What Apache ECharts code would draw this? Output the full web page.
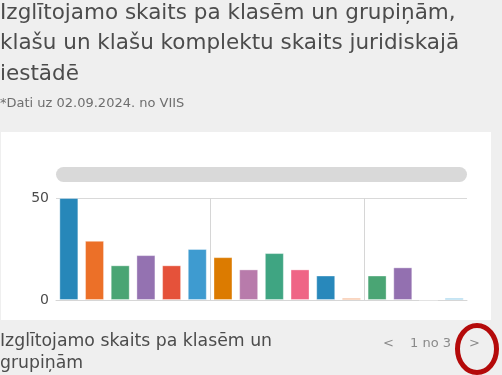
<!DOCTYPE html>
<html>
<head>
<meta charset="utf-8">
<script src="https://cdn.jsdelivr.net/npm/echarts@6/dist/echarts.min.js"></script>
<style>
html,body{margin:0;padding:0;background:#efefef;}
#c{width:502px;height:375px;}
</style>
</head>
<body>
<div id="c"></div>
<script>
// ---- data ----
const categories = ['1','2','3','4','5','6','7','8','9','10','11','12','13','14','15','16'];
const values = [50, 29, 17, 22, 17, 25, 21, 15, 23, 15, 12, 1, 12, 16, 0, 1];
const barColors = ['#2787b9','#ec7028','#4aa574','#9472b1','#e5523a','#3e9bd0','#dc7b00','#b87bab',
                   '#3fa582','#ef6586','#2888bb','#ef8c50','#4aa574','#9370b0','#e5523a','#5db4e0'];
const yTicks = [0, 50];
const titleText = 'Izglītojamo skaits pa klasēm un grupiņām,\nklašu un klašu komplektu skaits juridiskajā\niestādē';
const noteText = '*Dati uz 02.09.2024. no VIIS';
const footerText = 'Izglītojamo skaits pa klasēm un\ngrupiņām';
const pagerText = '1 no 3';

const chart = echarts.init(document.getElementById('c'), null, {renderer: 'canvas'});
const font = "'DejaVu Sans', sans-serif";
chart.setOption({
  backgroundColor: '#efefef',
  animation: false,
  color: barColors,
  title: [
    {text: titleText, left: 0, top: -2, padding: 0,
     textStyle: {fontFamily: font, fontSize: 21.5, fontWeight: 'normal', color: '#4c4c4c', lineHeight: 30.5}},
    {text: noteText, left: 0, top: 97, padding: 0,
     textStyle: {fontFamily: font, fontSize: 13, fontWeight: 'normal', color: '#6e6e6e', lineHeight: 14}},
    {text: footerText, left: 0, top: 331, padding: 0,
     textStyle: {fontFamily: font, fontSize: 17.3, fontWeight: 'normal', color: '#4c4c4c', lineHeight: 21.5}},
    {text: pagerText, left: 410, top: 335, padding: 0,
     textStyle: {fontFamily: font, fontSize: 13, fontWeight: 'normal', color: '#8a8a8a', lineHeight: 18}},
    {text: '<', left: 383, top: 335, padding: 0,
     textStyle: {fontFamily: font, fontSize: 13, fontWeight: 'normal', color: '#8a8a8a', lineHeight: 18}},
    {text: '>', left: 469, top: 335, padding: 0,
     textStyle: {fontFamily: font, fontSize: 13, fontWeight: 'normal', color: '#8a8a8a', lineHeight: 18}}
  ],
  graphic: [
    {type: 'rect', z: -10, shape: {x: 1, y: 132, width: 490, height: 188}, style: {fill: '#ffffff'}},
    {type: 'rect', z: 1, shape: {x: 56, y: 167, width: 411, height: 15, r: 7.5}, style: {fill: '#d9d9d9'}},
    {type: 'ellipse', z: 100, shape: {cx: 477, cy: 349, rx: 19.5, ry: 23.5},
     style: {fill: 'none', stroke: '#b40a0a', lineWidth: 5}}
  ],
  grid: {left: 56, right: 35, top: 198, bottom: 75, containLabel: false},
  xAxis: {
    type: 'category',
    data: categories,
    axisLine: {show: true, lineStyle: {color: '#d6d6d6', width: 1}},
    axisTick: {show: false},
    axisLabel: {show: false},
    splitLine: {
      show: true,
      showMinLine: true,
      showMaxLine: false,
      interval: function (i) { return i === 6 || i === 12; },
      lineStyle: {color: '#d6d6d6', width: 1}
    }
  },
  yAxis: {
    type: 'value',
    min: yTicks[0],
    max: yTicks[yTicks.length - 1],
    interval: yTicks[1] - yTicks[0],
    axisLine: {show: false},
    axisTick: {show: false},
    axisLabel: {fontFamily: font, fontSize: 14, color: '#4c4c4c', margin: 7},
    splitLine: {show: true, lineStyle: {color: '#d9d9d9', width: 1}}
  },
  series: [{
    type: 'bar',
    data: values,
    colorBy: 'data',
    barWidth: 19,
    itemStyle: {borderColor: 'rgba(255,255,255,0.35)', borderWidth: 1}
  }]
});
</script>
</body>
</html>
